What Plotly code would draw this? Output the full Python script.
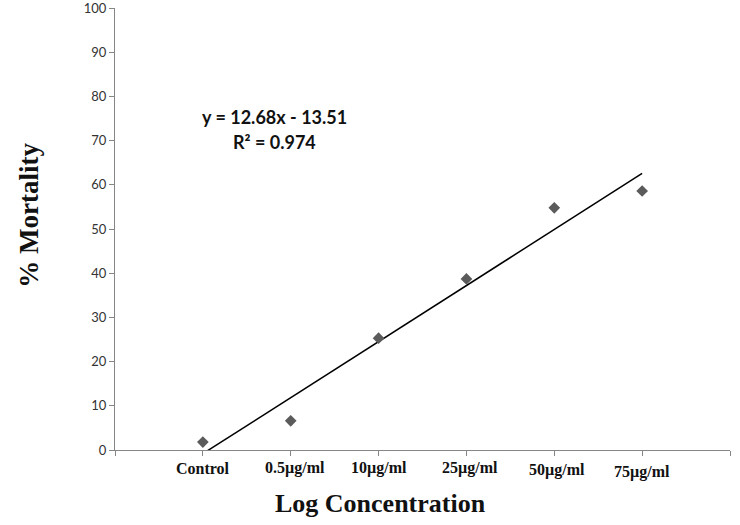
import plotly.graph_objects as go

categories = ["Control", "0.5µg/ml", "10µg/ml", "25µg/ml", "50µg/ml", "75µg/ml"]
x_positions = [1, 2, 3, 4, 5, 6]
mortality = [1.8, 6.6, 25.3, 38.7, 54.8, 58.6]
slope = 12.68
intercept = -13.51
r_squared = 0.974
y_ticks = [0, 10, 20, 30, 40, 50, 60, 70, 80, 90, 100]

fig = go.Figure()

trend_x = [x_positions[0], x_positions[-1]]
trend_y = [slope * v + intercept for v in trend_x]
fig.add_trace(go.Scatter(x=trend_x, y=trend_y, mode="lines",
                         line=dict(color="black", width=1.5),
                         showlegend=False, hoverinfo="skip"))
fig.add_trace(go.Scatter(x=x_positions, y=mortality, mode="markers",
                         marker=dict(symbol="diamond", size=9, color="#5b5b5b"),
                         showlegend=False, cliponaxis=False))

label_shift = [-18, -18, -18, -18, -20, -22]
label_xshift = [0, 4, 0, 4, 3, 0]
for xv, lab, sh, xs in zip(x_positions, categories, label_shift, label_xshift):
    fig.add_annotation(x=xv, y=0, xref="x", yref="y", text=f"<b>{lab}</b>", showarrow=False,
                       yshift=sh, xshift=xs, yanchor="middle",
                       font=dict(family="Liberation Serif", size=16, color="#111"))

fig.add_annotation(x=1.82, y=75.3, xref="x", yref="y",
                   text=f"y = {slope}x - {abs(intercept)}", showarrow=False,
                   font=dict(family="Lato", size=18, color="#111", weight="bold"))
fig.add_annotation(x=1.82, y=69.7, xref="x", yref="y",
                   text=f"R² = {r_squared}", showarrow=False,
                   font=dict(family="Lato", size=18, color="#111", weight="bold"))

fig.add_annotation(x=-0.14, y=0.532, xref="paper", yref="paper", textangle=-90,
                   text="<b>% Mortality</b>", showarrow=False, xanchor="center", yanchor="middle",
                   font=dict(family="Liberation Serif", size=27, color="#111"))
fig.add_annotation(x=0.431, y=-0.12, xref="paper", yref="paper",
                   text="<b>Log Concentration</b>", showarrow=False, xanchor="center", yanchor="middle",
                   font=dict(family="Liberation Serif", size=26, color="#111"))

fig.update_layout(
    width=740, height=525,
    margin=dict(l=115, r=10, t=8, b=75),
    paper_bgcolor="white", plot_bgcolor="white",
    xaxis=dict(range=[0, 7], tickvals=[0, 1, 2, 3, 4, 5, 6, 7], showticklabels=False,
               ticks="outside", ticklen=5, tickcolor="#868686",
               showline=True, linecolor="#868686", linewidth=1,
               showgrid=False, zeroline=False, automargin=False),
    yaxis=dict(range=[0, 100.001], tickvals=y_ticks, ticks="outside", ticklen=5,
               tickcolor="#868686", showline=True, linecolor="#868686", linewidth=1,
               showgrid=False, zeroline=False, automargin=False,
               ticklabeloverflow="allow",
               tickfont=dict(family="Lato", size=13, color="#333")),
)

fig.write_html("out.html", config={"displayModeBar": False},
               post_script="document.body.style.margin='0';")
